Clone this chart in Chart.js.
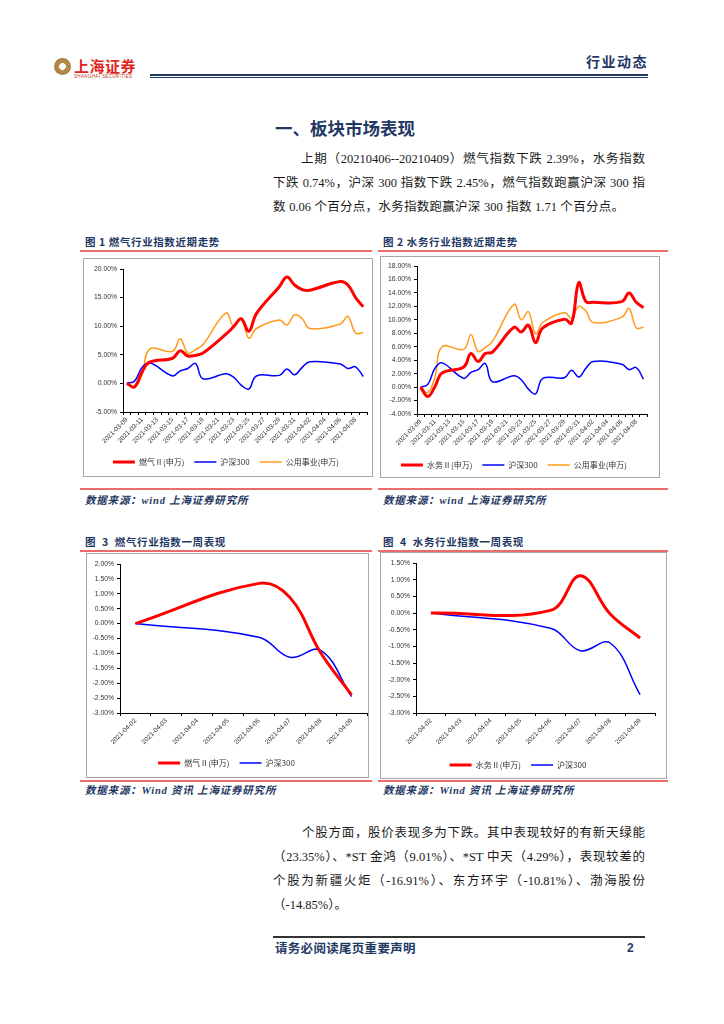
<!DOCTYPE html>
<html>
<head>
<meta charset="utf-8">
<script src="https://cdn.jsdelivr.net/npm/chart.js@4.4.1/dist/chart.umd.min.js"></script>
<style>
  body { margin: 0; background: #fff; }
  #page { position: relative; width: 724px; height: 1024px; background: #fff; overflow: hidden;
          font-family: "Liberation Serif", "Noto Sans CJK SC", serif; color: #1a1a1a; }
  .a { position: absolute; white-space: nowrap; }
  .line { position: absolute; white-space: nowrap; font-size: 12.5px; line-height: 24px; }
  .just { text-align: justify; text-align-last: justify; }
  .cap { position: absolute; white-space: nowrap; font-family: "Noto Sans CJK SC"; font-weight: 700;
         font-size: 10.5px; color: #1f3864; letter-spacing: 0.6px; line-height: 14px; }
  .src { position: absolute; white-space: nowrap; font-family: "Liberation Serif", "Noto Sans CJK SC"; font-weight: 700;
         font-style: italic; font-size: 10.5px; color: #1f3864; letter-spacing: 0.8px; line-height: 14px; }
  .red { position: absolute; height: 1.5px; background: #ec6b6b; }
  .box { position: absolute; border: 1px solid #a8a8a8; box-sizing: border-box; }
  .cv { position: absolute; }
</style>
</head>
<body>
<div id="page">
  <!-- header -->
  <div class="a" style="left:54px;top:58px;width:17px;height:17px;border-radius:50%;
       background:radial-gradient(circle,#fff 0 26%,#b8914f 30%,#9c7436 100%);"></div>
  <div class="a" style="left:74px;top:57px;font-family:'Noto Sans CJK SC';font-weight:700;font-size:15px;line-height:17px;color:#e2231a;letter-spacing:0.5px;">上海证券</div>
  <div class="a" style="left:74px;top:74px;font-family:'Liberation Sans';font-size:4.5px;line-height:5px;color:#c0392b;letter-spacing:0.35px;">SHANGHAI SECURITIES</div>
  <div class="a" style="left:586px;top:52px;font-family:'Noto Sans CJK SC';font-weight:700;font-size:14px;line-height:18px;color:#1f3864;letter-spacing:1.5px;">行业动态</div>
  <div class="a" style="left:150px;top:74px;width:498px;height:2px;background:#1f3864;"></div>
  <div class="a" style="left:150px;top:77px;width:498px;height:1px;background:#1f3864;"></div>

  <!-- title and text -->
  <div class="a" style="left:275px;top:117px;font-family:'Noto Sans CJK SC';font-weight:700;font-size:17.5px;line-height:22px;color:#1f3864;">一、板块市场表现</div>
  <div class="line just" style="left:301px;top:147px;width:344px;">上期（20210406--20210409）燃气指数下跌 2.39%，水务指数</div>
  <div class="line just" style="left:273px;top:171px;width:372px;">下跌 0.74%，沪深 300 指数下跌 2.45%，燃气指数跑赢沪深 300 指</div>
  <div class="line just" style="left:273px;top:195px;width:351px;">数 0.06 个百分点，水务指数跑赢沪深 300 指数 1.71 个百分点。</div>

  <!-- figure 1 / 2 -->
  <div class="cap" style="left:85px;top:235px;">图 1 燃气行业指数近期走势</div>
  <div class="cap" style="left:383px;top:235px;">图 2 水务行业指数近期走势</div>
  <div class="red" style="left:80px;top:250px;width:292px;"></div>
  <div class="red" style="left:378px;top:250px;width:290px;"></div>
  <div class="box" style="left:83px;top:258px;width:290px;height:219px;"></div>
  <div class="box" style="left:380px;top:256px;width:280px;height:222px;"></div>
  <div class="cv" style="left:85px;top:261px;width:286px;height:215px;"><canvas id="c1"></canvas></div>
  <div class="cv" style="left:381px;top:258px;width:270px;height:221px;"><canvas id="c2"></canvas></div>
  <div class="red" style="left:80px;top:488px;width:292px;"></div>
  <div class="red" style="left:378px;top:488px;width:290px;"></div>
  <div class="src" style="left:85px;top:494px;">数据来源：wind 上海证券研究所</div>
  <div class="src" style="left:383px;top:494px;">数据来源：wind 上海证券研究所</div>

  <!-- figure 3 / 4 -->
  <div class="cap" style="left:85px;top:535px;">图&nbsp; 3&nbsp; 燃气行业指数一周表现</div>
  <div class="cap" style="left:383px;top:535px;">图&nbsp; 4&nbsp; 水务行业指数一周表现</div>
  <div class="red" style="left:80px;top:550px;width:292px;"></div>
  <div class="red" style="left:378px;top:550px;width:290px;"></div>
  <div class="box" style="left:86px;top:553px;width:283px;height:225px;"></div>
  <div class="box" style="left:380px;top:552px;width:287px;height:227px;"></div>
  <div class="cv" style="left:86px;top:556px;width:282px;height:221px;"><canvas id="c3"></canvas></div>
  <div class="cv" style="left:381px;top:555px;width:278px;height:224px;"><canvas id="c4"></canvas></div>
  <div class="red" style="left:80px;top:780px;width:292px;"></div>
  <div class="red" style="left:378px;top:780px;width:290px;"></div>
  <div class="src" style="left:85px;top:784px;">数据来源：Wind 资讯 上海证券研究所</div>
  <div class="src" style="left:383px;top:784px;">数据来源：Wind 资讯 上海证券研究所</div>

  <!-- second paragraph -->
  <div class="line just" style="left:302px;top:821px;width:343px;">个股方面，股价表现多为下跌。其中表现较好的有新天绿能</div>
  <div class="line just" style="left:273px;top:845px;width:372px;">（23.35%）、*ST 金鸿（9.01%）、*ST 中天（4.29%），表现较差的</div>
  <div class="line just" style="left:273px;top:869px;width:372px;">个股为新疆火炬（-16.91%）、东方环宇（-10.81%）、渤海股份</div>
  <div class="line" style="left:273px;top:893px;">（-14.85%）。</div>

  <!-- footer -->
  <div class="a" style="left:273px;top:936px;width:372px;height:1.5px;background:#333;"></div>
  <div class="a" style="left:275px;top:940px;font-family:'Noto Sans CJK SC';font-weight:700;font-size:12.5px;line-height:16px;color:#1f3864;letter-spacing:0.3px;">请务必阅读尾页重要声明</div>
  <div class="a" style="left:627px;top:940px;font-family:'Liberation Sans';font-weight:700;font-size:12px;line-height:16px;color:#1f3864;">2</div>
</div>

<script>
// daily axis, trading days carry values, other days are null
const days = [
  "2021-03-09", "2021-03-10", "2021-03-11", "2021-03-12", "2021-03-13", "2021-03-14",
  "2021-03-15", "2021-03-16", "2021-03-17", "2021-03-18", "2021-03-19", "2021-03-20",
  "2021-03-21", "2021-03-22", "2021-03-23", "2021-03-24", "2021-03-25", "2021-03-26",
  "2021-03-27", "2021-03-28", "2021-03-29", "2021-03-30", "2021-03-31", "2021-04-01",
  "2021-04-02", "2021-04-03", "2021-04-04", "2021-04-05", "2021-04-06", "2021-04-07",
  "2021-04-08", "2021-04-09",
];
const gas = [0, -0.6, 2.0, 3.7, null, null, 4.4, 5.7, 4.8, 4.9, 5.3, null, null, 8.6, 9.9, 11.3,
  9.1, 12.2, null, null, 16.9, 18.6, 17.2, 16.4, 16.3, null, null, null, 17.8, 17.2, 15.0, 13.4];
const water = [0, -1.4, 0.1, 2.1, null, null, 3.0, 5.0, 3.8, 5.0, 5.2, null, null, 8.9, 8.2, 9.2,
  6.6, 8.8, null, null, 10.1, 9.5, 15.5, 12.7, 12.6, null, null, null, 12.7, 14.0, 12.6, 11.8];
const hs300 = [0, 0.4, 2.8, 3.6, null, null, 1.3, 2.2, 2.6, 3.5, 0.8, null, null, 1.7, 1.1, -0.3,
  -1.0, 1.3, null, null, 1.4, 2.5, 1.5, 2.8, 3.8, null, null, null, 3.4, 2.6, 2.9, 1.2];
const utilities = [0, -0.8, 1.5, 6.0, null, null, 5.6, 7.8, 5.3, 5.9, 6.8, null, null, 12.3, 10.0, 11.2,
  7.9, 9.6, null, null, 11.1, 10.2, 12.0, 11.3, 9.6, null, null, null, 10.4, 11.7, 8.8, 8.9];

const weekDays = ["2021-04-02", "2021-04-03", "2021-04-04", "2021-04-05",
  "2021-04-06", "2021-04-07", "2021-04-08", "2021-04-09"];
const gasWeek = [0, null, null, null, 1.35, 0.88, -0.98, -2.39];
const waterWeek = [0, null, null, null, 0.08, 1.12, -0.03, -0.75];
const hs300Week = [0, null, null, null, -0.46, -1.13, -0.9, -2.45];

// y tick values (percent)
const yTicks1 = [-5, 0, 5, 10, 15, 20];
const yTicks2 = [-4, -2, 0, 2, 4, 6, 8, 10, 12, 14, 16, 18];
const yTicks3 = [-3, -2.5, -2, -1.5, -1, -0.5, 0, 0.5, 1, 1.5, 2];
const yTicks4 = [-3, -2.5, -2, -1.5, -1, -0.5, 0, 0.5, 1, 1.5];

const RED = "#ff0000", BLUE = "#0000ff", ORANGE = "#ff9a1a";

function series(label, data, color, width) {
  return {
    label: label, data: data, borderColor: color, backgroundColor: color,
    borderWidth: width, pointRadius: 0, tension: 0.4, spanGaps: true, fill: false,
  };
}

function draw(id, labels, datasets, yTicks, every, g) {
  new Chart(document.getElementById(id), {
    type: "line",
    data: { labels: labels, datasets: datasets },
    options: {
      responsive: true,
      maintainAspectRatio: false,
      animation: false,
      events: [],
      layout: { padding: { top: g.top, right: g.right, bottom: 0, left: 0 } },
      plugins: {
        legend: {
          position: "bottom",
          labels: {
            usePointStyle: true, pointStyle: "line", pointStyleWidth: 22, padding: 10,
            color: "#333", font: { size: 8, family: "Noto Sans CJK SC" },
          },
        },
        tooltip: { enabled: false },
      },
      scales: {
        x: {
          offset: true,
          grid: { offset: true, drawOnChartArea: false, tickLength: 3, color: "#000" },
          border: { color: "#000", width: 1 },
          ticks: {
            autoSkip: false, minRotation: 45, maxRotation: 45, padding: 1, color: "#333",
            font: { size: 6.5, family: "Liberation Sans" },
            callback: (v, i) => (i % every === 0 ? labels[i] : ""),
          },
          afterFit: (s) => { s.height = g.xh; },
        },
        y: {
          min: yTicks[0],
          max: yTicks[yTicks.length - 1],
          grid: { drawOnChartArea: false, tickLength: 3, color: "#000" },
          border: { color: "#000", width: 1 },
          ticks: {
            stepSize: yTicks[1] - yTicks[0], padding: 3, color: "#333",
            font: { size: 6.8, family: "Liberation Sans" },
            callback: (v) => v.toFixed(2) + "%",
          },
          afterFit: (s) => { s.width = g.yw; },
        },
      },
    },
  });
}

draw("c1", days, [
  series("燃气Ⅱ(申万)", gas, RED, 3),
  series("沪深300", hs300, BLUE, 1.5),
  series("公用事业(申万)", utilities, ORANGE, 1.5),
], yTicks1, 2, { top: 8, right: 4, yw: 38, xh: 36 });

draw("c2", days, [
  series("水务Ⅱ(申万)", water, RED, 3),
  series("沪深300", hs300, BLUE, 1.5),
  series("公用事业(申万)", utilities, ORANGE, 1.5),
], yTicks2, 2, { top: 8, right: 4, yw: 36, xh: 37 });

draw("c3", weekDays, [
  series("燃气Ⅱ(申万)", gasWeek, RED, 3),
  series("沪深300", hs300Week, BLUE, 1.5),
], yTicks3, 1, { top: 8, right: 1, yw: 34, xh: 36 });

draw("c4", weekDays, [
  series("水务Ⅱ(申万)", waterWeek, RED, 3),
  series("沪深300", hs300Week, BLUE, 1.5),
], yTicks4, 1, { top: 8, right: 4, yw: 35, xh: 38 });
</script>
</body>
</html>
